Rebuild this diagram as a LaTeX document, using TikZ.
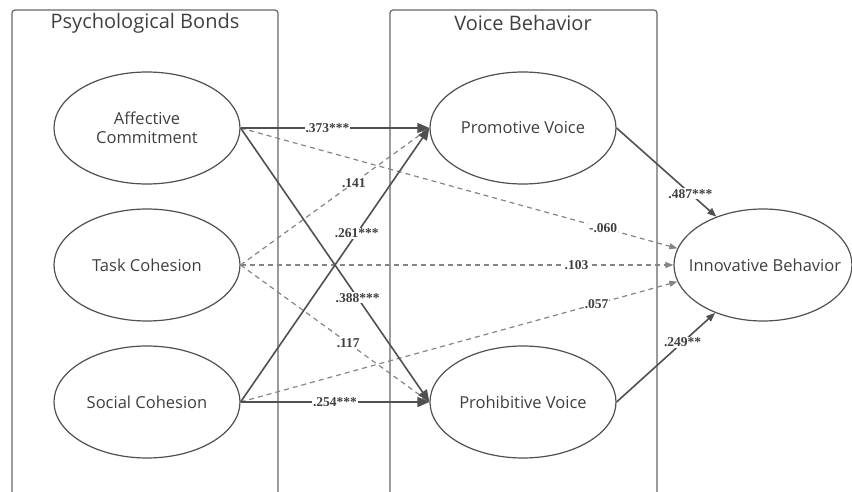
\documentclass[tikz,border=0pt]{standalone}
\usepackage{fontspec}
\setmainfont{Open Sans}
\newfontfamily\labfont{Liberation Serif}
\usetikzlibrary{shapes.geometric,arrows.meta}
\definecolor{txt}{HTML}{3F3F3F}
\definecolor{ln}{HTML}{505050}
\definecolor{dl}{HTML}{858585}
\definecolor{bx}{HTML}{666666}
\begin{document}
\begin{tikzpicture}[x=1pt,y=-1pt,
  var/.style={ellipse,draw=ln,line width=1.2pt,minimum width=186pt,minimum height=112pt,inner sep=0pt,text=txt,font=\fontsize{16.5}{19}\selectfont,align=center},
  sol/.style={draw=ln,line width=1.6pt,-{Triangle[length=12pt,width=10pt]}},
  dsh/.style={draw=dl,line width=1.2pt,dash pattern=on 5pt off 4pt,-{Triangle[length=8pt,width=6pt]}},
  lab/.style={fill=white,inner sep=1pt,text=txt,font=\labfont\bfseries\fontsize{13.5}{14}\selectfont},
  ttl/.style={text=txt,font=\fontsize{20}{22}\selectfont},
  box/.style={draw=bx,line width=1.2pt,rounded corners=3pt}]
\useasboundingbox (0,0) rectangle (852,492);
% boxes
\draw[box] (12,492) -- (12,10) -- (278,10) -- (278,492);
\draw[box] (390,492) -- (390,10) -- (657,10) -- (657,492);
\node[ttl] (t1) at (145,23) {Psychological Bonds};
\node[ttl] (t2) at (523,23) {Voice Behavior};
% nodes
\node[var] (AC) at (147,128) {Affective\\Commitment};
\node[var] (TC) at (147,265) {\makebox[0pt]{Task Cohesion}};
\node[var] (SC) at (147,402) {\makebox[0pt]{Social Cohesion}};
\node[var] (PV) at (523,128) {\makebox[0pt]{Promotive Voice}};
\node[var] (PR) at (523,402) {\makebox[0pt]{Prohibitive Voice}};
\node[var,minimum width=178pt] (IB) at (763,265) {\makebox[0pt]{\hspace{4pt}Innovative Behavior}};
% dashed
\draw[dsh] (AC.east) -- (IB.169) node[lab,pos=0.83] {-.060};
\draw[dsh] (TC.east) -- (IB.west) node[lab,pos=0.776] {.103};
\draw[dsh] (SC.east) -- (IB.191) node[lab,pos=0.815] {.057};
\draw[dsh] (TC.east) -- (PV.west) node[lab,pos=0.6] {.141};
\draw[dsh] (TC.east) -- (PR.west) node[lab,pos=0.57] {.117};
% solid
\draw[sol] (AC.east) -- (PV.west) node[lab,pos=0.46] {.373***};
\draw[sol] (SC.east) -- (PV.west) node[lab,pos=0.615] {.261***};
\draw[sol] (AC.east) -- (PR.west) node[lab,pos=0.62] {.388***};
\draw[sol] (SC.east) -- (PR.west) node[lab,pos=0.5] {.254***};
\draw[sol,-{Triangle[length=9pt,width=7pt]}] (PV.east) -- (IB.134) node[lab,pos=0.74] {.487***};
\draw[sol,-{Triangle[length=9pt,width=7pt]}] (PR.east) -- (IB.225) node[lab,pos=0.67] {.249**};
\end{tikzpicture}
\end{document}
